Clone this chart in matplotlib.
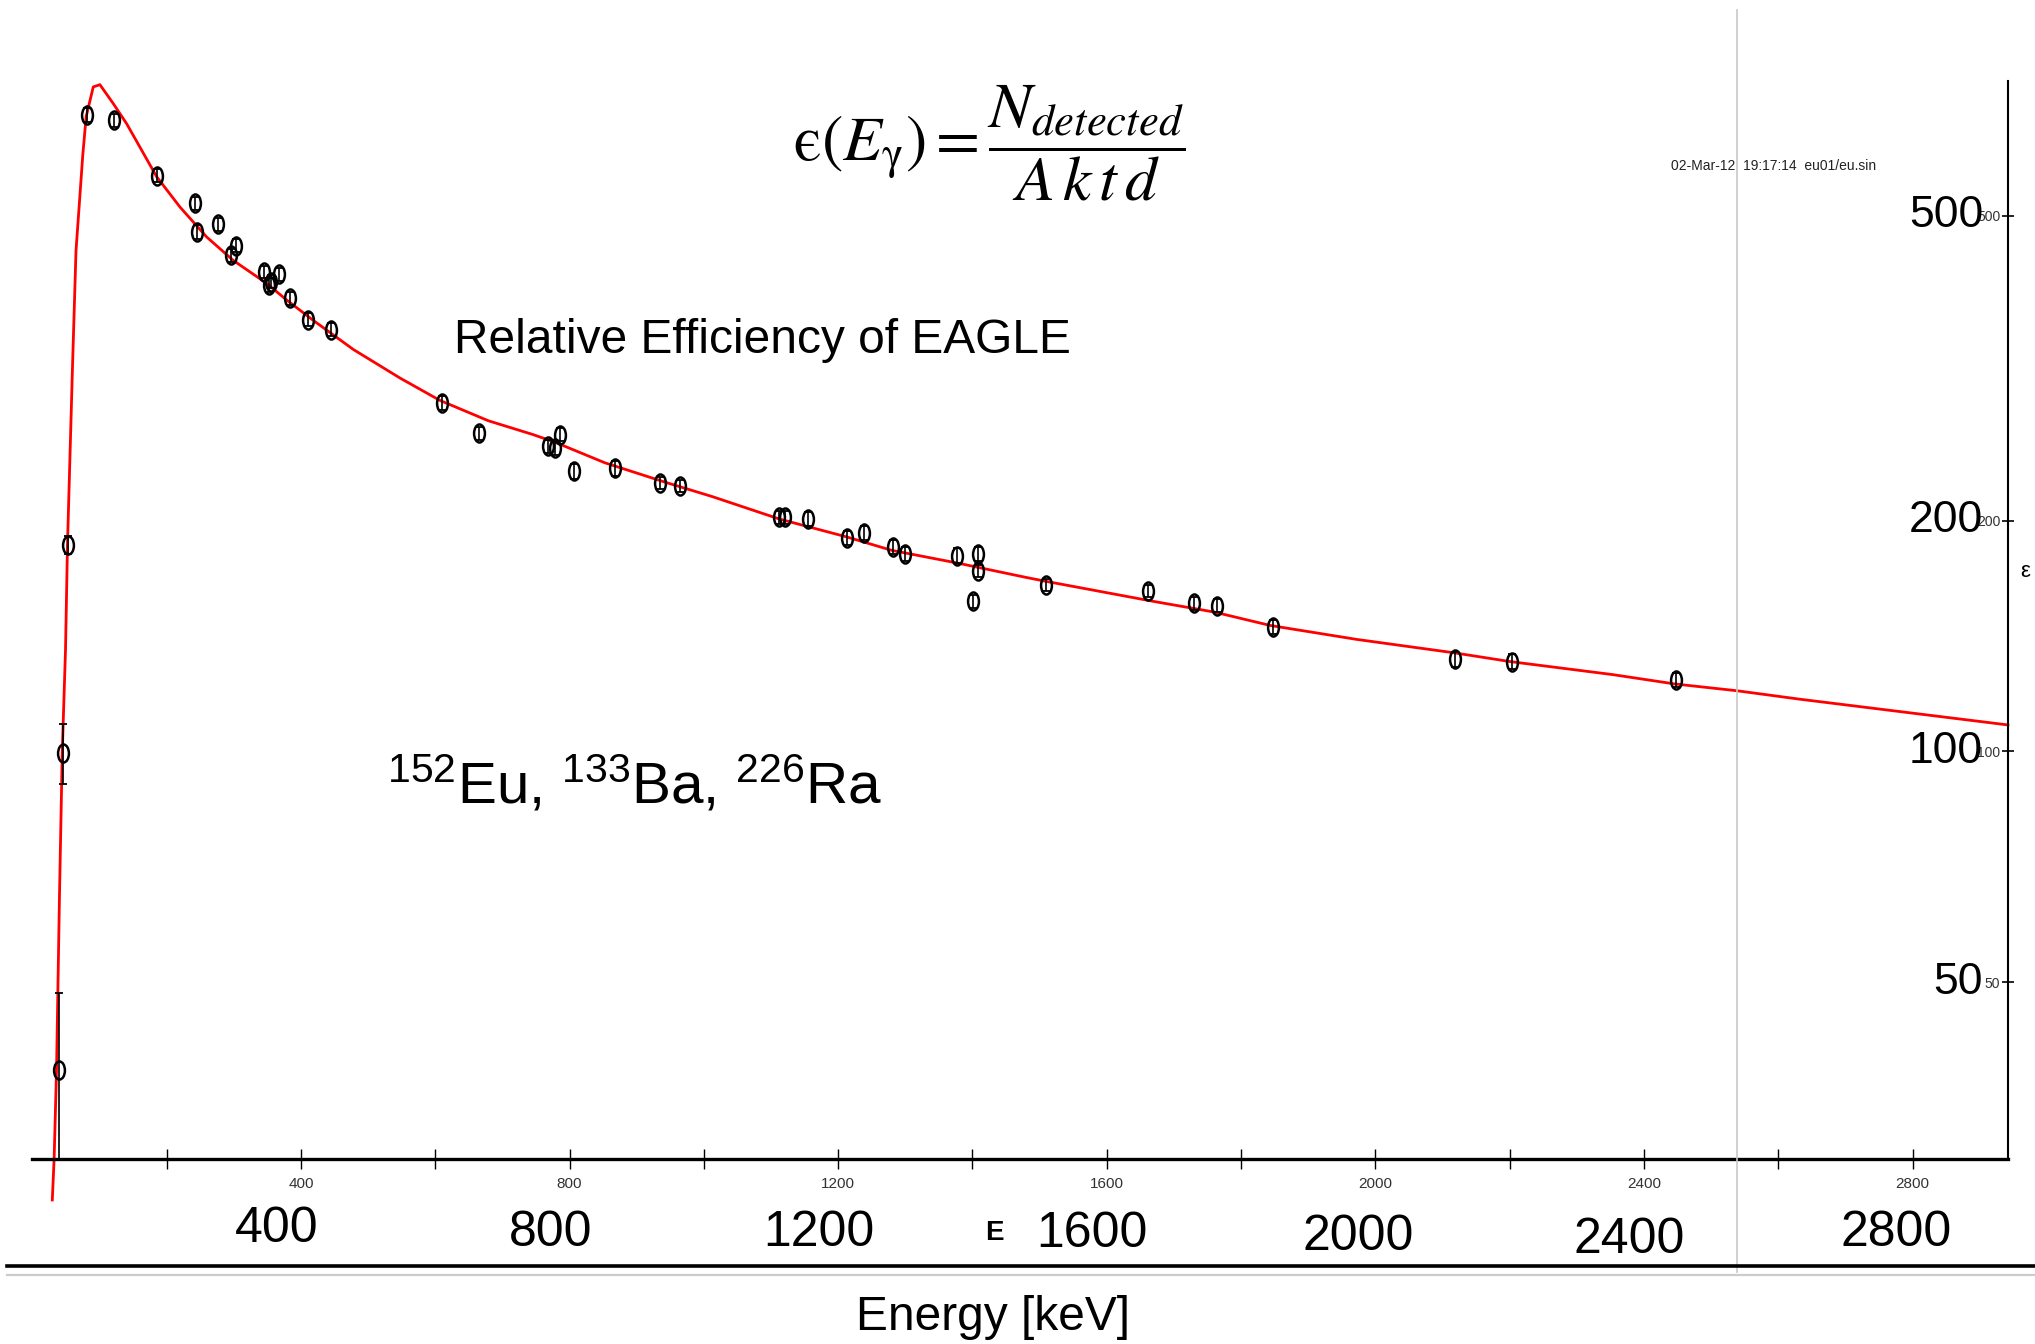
import numpy as np
import matplotlib
matplotlib.use('Agg')
import matplotlib.pyplot as plt
from matplotlib import font_manager
from matplotlib.path import Path
from matplotlib.transforms import Affine2D, blended_transform_factory
from matplotlib.lines import Line2D

#---------------- DATA ----------------

# measured peaks (keV) and relative efficiency
energy = [39.5, 45.4, 53.2, 81.0, 121.8, 186.2, 242.0, 244.7, 276.4, 295.2,
          302.9, 344.3, 351.9, 356.0, 367.8, 383.8, 411.1, 444.0, 609.3, 665.4,
          768.4, 778.9, 785.9, 806.2, 867.4, 934.1, 964.1, 1112.1, 1120.3, 1155.2,
          1212.9, 1238.1, 1281.0, 1299.1, 1377.7, 1401.5, 1408.0, 1408.0, 1509.2, 1661.3,
          1729.6, 1764.5, 1847.4, 2118.5, 2204.1, 2447.9]
eff = [38.4, 99.6, 186, 676, 666, 564, 519, 476, 487, 444,
       457, 422, 406, 410, 419, 390, 366, 355, 285, 260,
       250, 249, 259, 232, 234, 224, 222, 202, 202, 201,
       190, 193, 185, 181, 180, 157, 181, 172, 165, 162,
       156, 155, 145.5, 132, 131, 124]
eff_err = [10, 9, 5, 14, 13, 11, 10, 10, 10, 9,
           9, 8, 8, 8, 8, 8, 7, 7, 6, 5,
           5, 5, 5, 5, 5, 4, 4, 4, 4, 4,
           4, 4, 4, 4, 4, 3, 4, 3, 3, 3,
           3, 3, 3, 3, 3, 2.5]

# fitted efficiency curve
fit_energy = [29.7, 32.4, 36.0, 40.3, 44.5, 49.4, 52.3, 59.8, 65.0, 75.1,
              80.1, 90.7, 100.6, 120.5, 140.4, 155.3, 185.1, 219.9, 259.5, 299.3,
              348.8, 378.8, 418.4, 478.0, 547.5, 607.1, 679.2, 745.9, 779.1, 852.6,
              946.0, 1012.7, 1112.6, 1212.7, 1279.4, 1379.3, 1479.5, 1507.9, 1668.9, 1760.2,
              1843.7, 1972.8, 2117.2, 2200.7, 2352.7, 2445.5, 2538.8, 2632.2, 2942.0]
fit_eff = [26.0, 29.4, 38.4, 64.2, 99.6, 136, 186, 318, 450, 600,
           673, 736, 741, 700, 659, 625, 562, 513, 469, 437,
           408, 388, 365, 334.5, 307, 287, 270, 259, 253, 238,
           224, 215, 201, 190.5, 183, 176, 168.7, 166.8, 157, 152,
           146, 140, 134.5, 131, 126, 122.5, 120, 117, 108.3]

x_ticks = [200, 400, 600, 800, 1000, 1200, 1400, 1600, 1800, 2000, 2200, 2400, 2600, 2800]
x_big = ['400', '800', '1200', '1600', '2000', '2400', '2800']
y_ticks = [50, 100, 200, 500]

#---------------- FONTS ----------------

def pick_font(names):
    for n in names:
        try:
            font_manager.findfont(font_manager.FontProperties(family=n), fallback_to_default=False)
            return n
        except ValueError:
            pass
    return 'DejaVu Sans'

sans = pick_font(['Liberation Sans', 'Arial'])
narrow = pick_font(['Liberation Sans Narrow', 'Liberation Sans'])
plt.rcParams['font.family'] = sans

#---------------- PLOT ----------------

fig = plt.figure(figsize=(20.35, 13.44), dpi=100)
ax = fig.add_axes([0.0159, 0.1376, 0.9708, 0.8024])

ax.plot(fit_energy, fit_eff, color='#ff0000', lw=2.0, clip_on=False, zorder=2)

oval = Path.unit_circle().transformed(Affine2D().scale(0.6, 1.0))
ax.errorbar(energy, eff, yerr=eff_err, fmt='none', ecolor='black',
            elinewidth=1.2, capsize=3, capthick=1.3, zorder=3)
ax.plot(energy, eff, ls='none', marker=oval, mfc='none', mec='black',
        mew=1.8, ms=13, zorder=4)

ax.set_yscale('log')
ax.set_xlim(0, 2942)
ax.set_ylim(29.4, 750)

ax.spines['left'].set_visible(False)
ax.spines['top'].set_visible(False)
ax.spines['bottom'].set_linewidth(2.4)
ax.spines['right'].set_linewidth(1.5)

ax.set_xticks(x_ticks)
ax.set_xticklabels([str(t) if t % 400 == 0 else '' for t in x_ticks])
ax.tick_params(axis='x', direction='inout', length=14, width=1.0, pad=6,
               labelsize=11, labelcolor='#333333')
for lbl in ax.get_xticklabels():
    lbl.set_fontfamily(narrow)

ax.yaxis.tick_right()
ax.yaxis.set_minor_locator(matplotlib.ticker.NullLocator())
ax.set_yticks(y_ticks)
ax.set_yticklabels([str(t) for t in y_ticks])
ax.tick_params(axis='y', direction='inout', length=9, width=1.2, pad=-10,
               labelsize=10, labelcolor='#333333')
for lbl in ax.get_yticklabels():
    lbl.set_horizontalalignment('right')
    lbl.set_fontfamily(narrow)

# large value labels on the efficiency axis
ytrans = blended_transform_factory(ax.transAxes, ax.transData)
for t in y_ticks:
    ax.text(0.9874, t, str(t), transform=ytrans, ha='right', va='center',
            fontsize=32, color='black')

# large energy labels under the axis
big_x = [0.1359, 0.2705, 0.4025, 0.5364, 0.6672, 0.8005, 0.9319]
big_y = [0.0856, 0.0826, 0.0826, 0.0818, 0.0796, 0.0774, 0.0826]
for s, bx, by in zip(x_big, big_x, big_y):
    fig.text(bx, by, s, ha='center', va='center', fontsize=36, family=narrow)

fig.text(0.4885, 0.0826, 'E', ha='center', va='center', fontsize=20,
         family=narrow, fontweight='bold')
fig.text(0.488, 0.0197, 'Energy [keV]', ha='center', va='center', fontsize=34.5, family=narrow)
fig.text(0.995, 0.575, 'ε', ha='center', va='center', fontsize=16)

fig.text(0.486, 0.8938,
         '$\\mathrm{\u03f5}\\left(E_{\\mathrm{\\gamma}}\\right)=\\dfrac{N_{detected}}{A\\,k\\,t\\,d}$',
         ha='center', va='center', fontsize=46, math_fontfamily='stix')
fig.text(0.2232, 0.747, 'Relative Efficiency of EAGLE', ha='left', va='center', fontsize=34.5)
fig.text(0.1901, 0.416, r'$\mathregular{^{152}}$Eu, $\mathregular{^{133}}$Ba, $\mathregular{^{226}}$Ra',
         ha='left', va='center', fontsize=42)
fig.text(0.8209, 0.8765, "02-Mar-12  19:17:14  eu01/eu.sin", ha='left', va='center',
         fontsize=10, family=narrow, color='#222222')

# frame lines of the page
fig.add_artist(Line2D([0.8536, 0.8536], [0.0536, 0.9926], transform=fig.transFigure,
                      color='#c8c8c8', lw=1.2))
fig.add_artist(Line2D([0.0032, 1.0], [0.0584, 0.0584], transform=fig.transFigure,
                      color='black', lw=2.6))
fig.add_artist(Line2D([0.0032, 1.0], [0.0516, 0.0516], transform=fig.transFigure,
                      color='#cccccc', lw=1.6))

fig.savefig('out.png', dpi=100)
